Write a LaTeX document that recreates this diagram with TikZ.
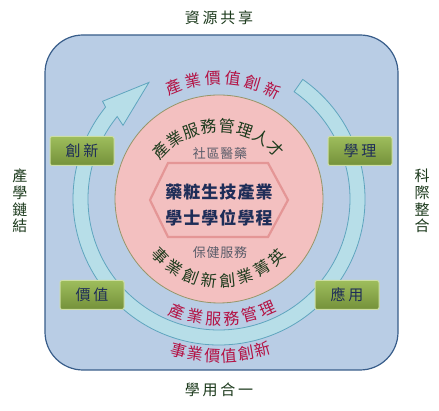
\documentclass[tikz,border=0pt]{standalone}
\usepackage{fontspec}
\usepackage{tikz}
\usetikzlibrary{decorations.text}
\newfontfamily\cjk{Noto Sans CJK TC}
\newfontfamily\cjkwide[LetterSpace=18]{Noto Sans CJK TC}
\newfontfamily\cjkhex[LetterSpace=6]{Noto Sans CJK TC}
\newcommand\arcfont{\cjk\fontsize{16}{16}\selectfont}

\definecolor{panelblue}{RGB}{185,205,229}
\definecolor{paneledge}{RGB}{56,93,138}
\definecolor{ringfill}{RGB}{183,222,232}
\definecolor{ringedge}{RGB}{95,165,190}
\definecolor{pinkfill}{RGB}{243,192,192}
\definecolor{pinkedge}{RGB}{150,150,105}
\definecolor{hexedge}{RGB}{228,150,150}
\definecolor{boxtop}{RGB}{158,189,92}
\definecolor{boxbot}{RGB}{116,145,58}
\definecolor{boxedge}{RGB}{205,222,165}
\definecolor{redtxt}{RGB}{180,18,68}
\definecolor{greentxt}{RGB}{28,58,28}
\definecolor{navytxt}{RGB}{30,45,88}
\definecolor{graytxt}{RGB}{90,92,105}

\tikzset{
  titletxt/.style={text=greentxt,font=\cjkwide\fontsize{15}{15}\selectfont},
  sidetxt/.style={text=greentxt,align=center,font=\cjk\fontsize{15}{16.7}\selectfont},
  greenbox/.style={draw=boxedge,line width=1pt,rounded corners=2pt,top color=boxtop,bottom color=boxbot,
    minimum width=64pt,minimum height=29pt,text=navytxt,font=\cjkwide\fontsize{15}{15}\selectfont},
  hextxt/.style={text=navytxt,font=\cjkhex\bfseries\fontsize{17}{17}\selectfont},
  graytxt/.style={text=graytxt,font=\cjkhex\fontsize{13}{13}\selectfont},
  ring/.style={fill=ringfill,draw=ringedge,line width=0.8pt},
  arctxt/.style={decorate,decoration={text along path,text align=fit to path,text={#1}}}
}

\begin{document}
\begin{tikzpicture}[x=1pt,y=1pt]
\useasboundingbox (0,0) rectangle (439,411);
\path[fill=white] (0,0) rectangle (439,411);
\path[fill=panelblue,draw=paneledge,line width=1.2pt,rounded corners=38pt] (45,41) rectangle (398,376);

\node[titletxt] (top) at (219,393) {資源共享};
\node[titletxt] (bottom) at (219,21) {學用合一};
\node[sidetxt] (left) at (20,210) {產\\學\\鏈\\結};
\node[sidetxt] (right) at (422,210) {科\\際\\整\\合};

\begin{scope}[shift={(219,212)}]
% circular arrow
\path[ring] (55:146) arc[start angle=55,end angle=-219,radius=146]
  -- (140:152) -- (121:136) -- (142.5:121) -- (141:131)
  arc[start angle=-219,end angle=55,radius=131] -- cycle;
\path[fill=pinkfill,draw=pinkedge,line width=0.8pt] (0,0) circle[radius=104];
% arc labels
\path[arctxt={|\arcfont\color{redtxt}|產業價值創新}] (116:115) arc[start angle=116,end angle=60,radius=115];
\path[arctxt={|\arcfont\color{redtxt}|產業服務管理}] (-114:126) arc[start angle=-114,end angle=-62.5,radius=126];
\path[arctxt={|\arcfont\color{redtxt}|事業價值創新}] (-107.5:163) arc[start angle=-107.5,end angle=-71.2,radius=163];
\path[arctxt={|\arcfont\color{greentxt}|事業創新創業菁英}] (-141:88) arc[start angle=-141,end angle=-40,radius=88];
\end{scope}
\begin{scope}[shift={(219,204)}]
\path[arctxt={|\arcfont\color{greentxt}|產業服務管理人才}] (142:75) arc[start angle=142,end angle=39.5,radius=75];
\end{scope}

\path[fill=pinkfill,draw=hexedge,line width=2.2pt] (150,211) -- (168,248) -- (268,248) -- (288,211) -- (268,174) -- (168,174) -- cycle;
\node[hextxt] (h1) at (219,219) {藥粧生技產業};
\node[hextxt] (h2) at (219,193) {學士學位學程};
\node[graytxt] (g1) at (220,257) {社區醫藥};
\node[graytxt] (g2) at (220,158) {保健服務};

\node[greenbox] (b1) at (82,260) {創新};
\node[greenbox] (b2) at (360,260) {學理};
\node[greenbox] (b3) at (92,116) {價值};
\node[greenbox] (b4) at (347,116) {應用};
\end{tikzpicture}
\end{document}
